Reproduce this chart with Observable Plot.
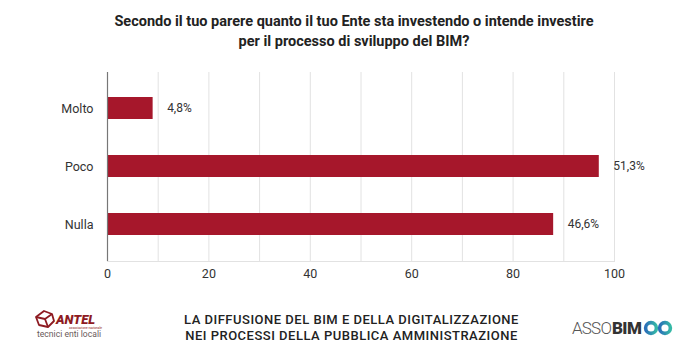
<!DOCTYPE html>
<html><head><meta charset="utf-8">
<script src="https://cdn.jsdelivr.net/npm/d3@7"></script>
<script src="https://cdn.jsdelivr.net/npm/@observablehq/plot@0.6"></script>
<style>
body{margin:0;background:#fff;font-family:Roboto,"Noto Sans",sans-serif}
#wrap{position:relative;width:700px;height:358px;overflow:hidden;background:#fff}
#chart{position:absolute;left:0;top:0}
#title{position:absolute;left:0;top:12px;width:708px;text-align:center;font-weight:bold;font-size:14.5px;line-height:20px;color:#222}
#foot{position:absolute;left:0;top:312px;width:703px;text-align:center;font-family:Roboto,sans-serif;font-weight:500;font-size:13px;line-height:15.5px;letter-spacing:0.5px;color:#222}
#antel{position:absolute;left:33px;top:308px;width:82px;height:32px}
#assobim{position:absolute;left:570px;top:316px;width:110px;height:24px}
</style></head>
<body><div id="wrap">
<div id="chart"></div>
<div id="title">Secondo il tuo parere quanto il tuo Ente sta investendo o intende investire<br>per il processo di sviluppo del BIM?</div>
<div id="foot">LA DIFFUSIONE DEL BIM E DELLA DIGITALIZZAZIONE<br>NEI PROCESSI DELLA PUBBLICA AMMINISTRAZIONE</div>
<svg id="antel" viewBox="0 0 82 32">
  <g fill="none" stroke="#8e1b22" stroke-width="1.8" stroke-linejoin="round">
    <polygon points="3,9 11,3 19,6 21,13 15,19 6,17"/>
    <polyline points="3,9 12,11 19,6"/>
    <polyline points="12,11 15,19"/>
  </g>
  <text x="23" y="16" font-family="Roboto,sans-serif" font-weight="900" font-style="italic" font-size="13" fill="#8e1b22">ANTEL</text>
  <text x="36" y="21" font-family="Roboto,sans-serif" font-size="3.2" fill="#8e1b22">associazione nazionale</text>
  <text x="4" y="29" font-family="Roboto,sans-serif" font-size="8.6" fill="#6a5a5a">tecnici enti locali</text>
</svg>
<svg id="assobim" viewBox="0 0 110 24">
  <defs><linearGradient id="g" x1="0" x2="1"><stop offset="0" stop-color="#2a6fb8"/><stop offset="1" stop-color="#35b8a6"/></linearGradient></defs>
  <text x="2" y="18" font-family="Roboto,sans-serif" font-weight="300" font-size="17" fill="#555" letter-spacing="-0.8">ASSO</text>
  <text x="42" y="18" font-family="Roboto,sans-serif" font-weight="900" font-size="17" fill="#333" letter-spacing="-0.6">BIM</text>
  <g fill="none" stroke="url(#g)" stroke-width="3.6">
    <circle cx="81" cy="12" r="5.4"/>
    <circle cx="95" cy="12" r="5.4"/>
  </g>
</svg>
</div>
<script>
const categories = ["Molto", "Poco", "Nulla"];
const values = [9, 97, 88];
const valueLabels = ["4,8%", "51,3%", "46,6%"];
const xTicks = [0, 20, 40, 60, 80, 100];
const gridTicks = [10, 20, 30, 40, 50, 60, 70, 80, 90, 100];

const data = categories.map((c, i) => ({cat: c, value: values[i], label: valueLabels[i]}));

const chart = Plot.plot({
  width: 700,
  height: 358,
  marginLeft: 107,
  marginRight: 86,
  marginTop: 72,
  marginBottom: 97,
  style: {fontFamily: "Roboto, sans-serif", fontSize: "12px", color: "#333", background: "transparent"},
  x: {domain: [0, 100], label: null},
  y: {domain: categories, paddingInner: 0.62, paddingOuter: 0.43, label: null},
  marks: [
    Plot.gridX(gridTicks, {stroke: "#e2e2e2", strokeOpacity: 1}),
    Plot.frame({anchor: "bottom", stroke: "#e2e2e2"}),
    Plot.barX(data, {x: "value", y: "cat", fill: "#a6172b"}),
    Plot.ruleX([0], {stroke: "#777", strokeWidth: 1.2}),
    Plot.text(data, {x: "value", y: "cat", text: "label", textAnchor: "start", dx: 14, fill: "#333", fontSize: 12}),
    Plot.axisX(xTicks, {tickSize: 0, tickPadding: 8, fill: "#333", fontSize: 12.5, label: null}),
    Plot.axisY({tickSize: 0, tickPadding: 14, fill: "#333", fontSize: 12.5, label: null})
  ]
});
document.getElementById("chart").appendChild(chart);
</script>
</body></html>
